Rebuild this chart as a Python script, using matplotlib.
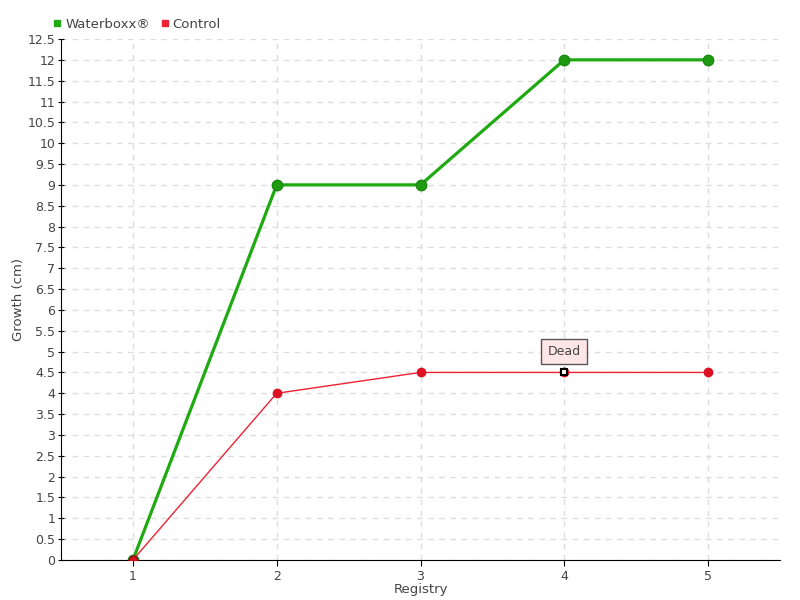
import numpy as np
import matplotlib.pyplot as plt
from matplotlib.lines import Line2D

registry = [1, 2, 3, 4, 5]
waterboxx = [0, 9, 9, 12, 12]
control = [0, 4, 4.5, 4.5, 4.5]
dead_point = (4, 4.5)

plt.rcParams['font.family'] = ['DejaVu Sans']
txt = '#444444'

fig = plt.figure(figsize=(8, 6), dpi=100)
ax = fig.add_axes([0.07625, 0.0667, 0.89875, 0.8683])

ax.plot(registry, control, color='#ee2233', lw=1, marker='o', ms=6,
        markerfacecolor='#dd1122', markeredgecolor='#dd1122', zorder=3, label='Control')
ax.plot(registry, waterboxx, color='#1faa12', lw=2.3, marker='o', ms=7.5,
        markerfacecolor='#1f9a12', markeredgecolor='#188a10', zorder=2, label='Waterboxx®')
# red point on top at origin
ax.plot([1], [0], 'o', color='#dd1122', ms=6, markeredgecolor='#881111', zorder=4)
ax.plot([dead_point[0]], [dead_point[1]], 's', ms=5, markerfacecolor='white',
        markeredgecolor='black', markeredgewidth=1.5, zorder=5)
ax.annotate('Dead', xy=dead_point, xytext=(0, 15), textcoords='offset points',
            ha='center', va='center', fontsize=9, color=txt,
            bbox=dict(boxstyle='square,pad=0.5', fc='#ffe6e6', ec='#555555', lw=1),
            arrowprops=dict(arrowstyle='-', color='#555555', lw=0.8))

ax.set_xlim(0.5, 5.5)
ax.set_ylim(0, 12.5)
ax.set_xticks(registry)
ax.set_yticks(np.arange(0, 12.51, 0.5))
ax.set_yticklabels([f'{v:g}' for v in np.arange(0, 12.51, 0.5)])
ax.tick_params(axis='both', labelsize=9, labelcolor=txt, length=4)
ax.tick_params(axis='y', direction='inout', pad=2)
ax.grid(True, ls=(0, (4, 4)), color='#dddddd', lw=1)
ax.set_axisbelow(True)
for s in ['top', 'right']:
    ax.spines[s].set_visible(False)
ax.set_xlabel('Registry', fontsize=9.5, color=txt, labelpad=0)
ax.set_ylabel('Growth (cm)', fontsize=9.5, color=txt, labelpad=2)

handles = [Line2D([], [], ls='', marker='s', ms=5, color='#1faa12'),
           Line2D([], [], ls='', marker='s', ms=5, color='#ee2233')]
fig.legend(handles, ['Waterboxx®', 'Control'], loc='upper left', bbox_to_anchor=(0.052, 0.99),
           ncol=2, frameon=False, fontsize=9.5, handlelength=0.6, handletextpad=0.3,
           columnspacing=0.8, labelcolor=txt)

fig.savefig('out.png', dpi=100)
